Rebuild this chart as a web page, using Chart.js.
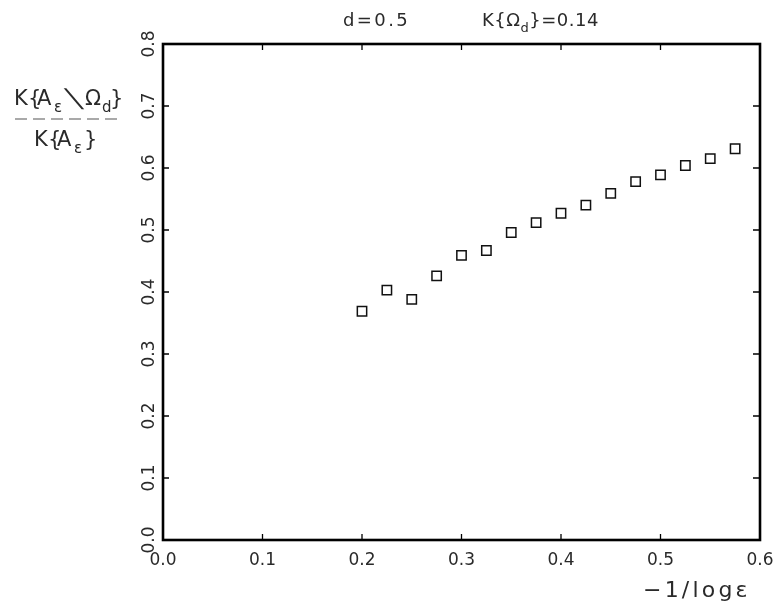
<!DOCTYPE html>
<html lang="en">
<head>
<meta charset="UTF-8">
<title>K ratio vs -1/log eps</title>
<script src="https://cdn.jsdelivr.net/npm/chart.js"></script>
<style>
  html, body { margin: 0; padding: 0; background: #fff; }
</style>
</head>
<body>
<canvas id="ratioChart" width="777" height="613"></canvas>
<script>
// data
const xValues = [0.200, 0.225, 0.250, 0.275, 0.300, 0.325, 0.350, 0.375,
                 0.400, 0.425, 0.450, 0.475, 0.500, 0.525, 0.550, 0.575];
const ratioValues = [0.369, 0.403, 0.388, 0.426, 0.459, 0.467, 0.496, 0.512,
                     0.527, 0.540, 0.559, 0.578, 0.589, 0.604, 0.615, 0.631];
const xRange = [0.0, 0.6];
const yRange = [0.0, 0.8];
const tickStep = 0.1;

const FONT = '"DejaVu Sans", sans-serif';
const INK = '#2a2a2a';

// draw text made of pieces, some of them subscripts
function drawRich(ctx, parts, x, y, size, spacing) {
  ctx.save();
  ctx.fillStyle = INK;
  ctx.textBaseline = 'alphabetic';
  ctx.textAlign = 'left';
  let cx = x;
  parts.forEach(p => {
    const s = p.size || (p.sub ? Math.round(size * 0.7) : size);
    ctx.font = s + 'px ' + FONT;
    ctx.letterSpacing = (spacing || 0) + 'px';
    const dy = (p.sub ? size * 0.32 : 0) + (p.dy || 0);
    const px = p.x !== undefined ? p.x : cx;
    const sx = p.sx || 1;
    ctx.save();
    ctx.translate(px, y + dy);
    ctx.scale(sx, 1);
    ctx.fillText(p.t, 0, 0);
    ctx.restore();
    cx = px + ctx.measureText(p.t).width * sx;
  });
  ctx.restore();
}

// frame round the plot plus inward tick marks on all four sides
const frameTicks = {
  id: 'frameTicks',
  afterDatasetsDraw(chart) {
    const ctx = chart.ctx;
    const a = chart.chartArea;
    const xs = chart.scales.x, ys = chart.scales.y;
    ctx.save();
    ctx.strokeStyle = '#000';
    ctx.lineWidth = 1.3;
    ctx.beginPath();
    xs.ticks.forEach((t, i) => {
      const px = xs.getPixelForTick(i);
      ctx.moveTo(px, a.bottom); ctx.lineTo(px, a.bottom - 6);
      ctx.moveTo(px, a.top); ctx.lineTo(px, a.top + 6);
    });
    ys.ticks.forEach((t, i) => {
      const py = ys.getPixelForTick(i);
      ctx.moveTo(a.left, py); ctx.lineTo(a.left + 6, py);
      ctx.moveTo(a.right, py); ctx.lineTo(a.right - 7, py);
    });
    ctx.stroke();
    ctx.lineWidth = 2.6;
    ctx.strokeRect(a.left, a.top, a.right - a.left, a.bottom - a.top);
    ctx.restore();
  },
  afterDraw(chart) {
    const ctx = chart.ctx;
    // header
    drawRich(ctx, [{t: 'd=0.5'}], 343, 26, 18, 2.4);
    drawRich(ctx, [{t: 'K{Ω'}, {t: 'd', sub: true}, {t: '}=0.14'}], 482, 26, 18, 0.5);
    // y axis label as a fraction
    drawRich(ctx, [
      {t: 'K', x: 14}, {t: '{', x: 28}, {t: 'A', x: 37},
      {t: 'ε', sub: true, x: 54},
      {t: '╲', x: 65, size: 18, sx: 1.65},
      {t: 'Ω', x: 85}, {t: 'd', sub: true, x: 102}, {t: '}', x: 110}
    ], 0, 105, 21, 0);
    ctx.save();
    ctx.strokeStyle = '#555';
    ctx.lineWidth = 1.2;
    ctx.setLineDash([12, 6]);
    ctx.beginPath();
    ctx.moveTo(15, 119); ctx.lineTo(123, 119);
    ctx.stroke();
    ctx.restore();
    drawRich(ctx, [
      {t: 'K', x: 34}, {t: '{', x: 48}, {t: 'A', x: 57},
      {t: 'ε', sub: true, x: 74}, {t: '}', x: 84}
    ], 0, 146, 21, 0);
    // x axis label
    drawRich(ctx, [{t: '−1/logε'}], 643, 597, 22, 3.2);
  }
};

new Chart(document.getElementById('ratioChart'), {
  type: 'scatter',
  data: {
    datasets: [{
      data: xValues.map((x, i) => ({x: x, y: ratioValues[i]})),
      pointStyle: 'rect',
      pointRadius: 6.6,
      pointBorderWidth: 1.5,
      borderColor: '#111',
      backgroundColor: 'rgba(0,0,0,0)',
      showLine: false
    }]
  },
  options: {
    responsive: false,
    animation: false,
    layout: { padding: { left: 0, right: 17, top: 44, bottom: 0 } },
    plugins: { legend: { display: false }, tooltip: { enabled: false } },
    scales: {
      x: {
        type: 'linear',
        min: xRange[0], max: xRange[1],
        grid: { display: false, drawTicks: false },
        border: { display: false },
        ticks: {
          stepSize: tickStep,
          padding: 10,
          color: INK,
          font: { family: FONT, size: 17 },
          callback: v => v.toFixed(1)
        },
        afterFit: s => { s.height = 73; s.paddingLeft = 0; s.paddingRight = 0; }
      },
      y: {
        type: 'linear',
        min: yRange[0], max: yRange[1],
        grid: { display: false, drawTicks: false },
        border: { display: false },
        ticks: {
          stepSize: tickStep,
          padding: 0,
          minRotation: 90, maxRotation: 90,
          crossAlign: 'center',
          color: INK,
          font: { family: FONT, size: 17 },
          callback: v => v.toFixed(1)
        },
        afterFit: s => { s.width = 163; s.paddingTop = 0; s.paddingBottom = 0; }
      }
    }
  },
  plugins: [frameTicks]
});
</script>
</body>
</html>
